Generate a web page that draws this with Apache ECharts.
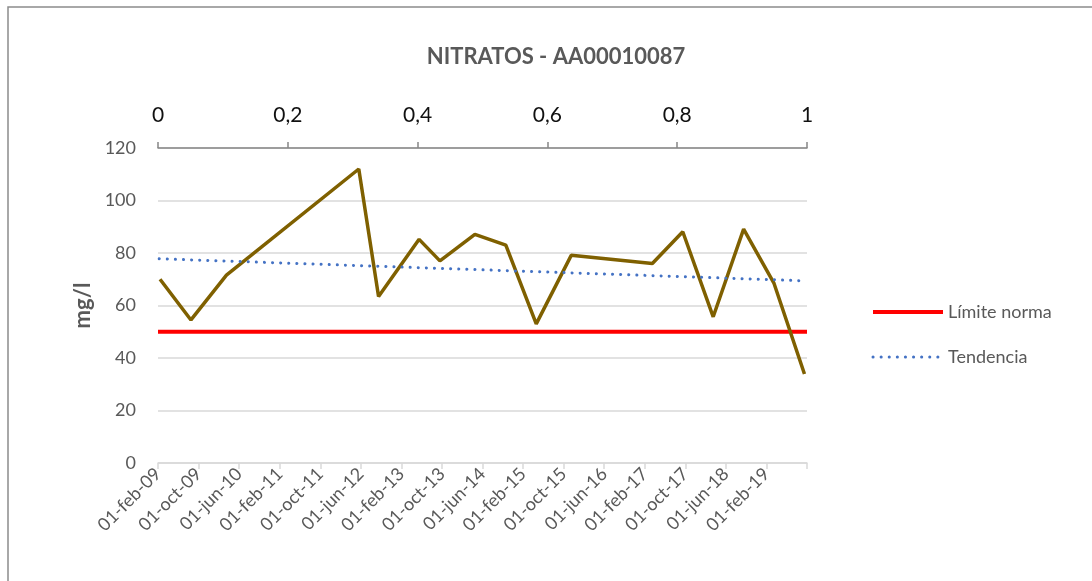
<!DOCTYPE html>
<html>
<head>
<meta charset="utf-8">
<script src="https://cdn.jsdelivr.net/npm/echarts@6/dist/echarts.min.js"></script>
<style>
  html, body { margin: 0; padding: 0; background: #fff; }
  #chart { width: 1092px; height: 581px; }
</style>
</head>
<body>
<div id="chart"></div>
<script>
// sampling dates and nitrate values (mg/l)
var sampleDates = ['2009-02-13', '2009-08-16', '2010-03-16', '2012-05-19', '2012-09-16',
  '2013-05-16', '2013-09-19', '2014-04-16', '2014-10-19', '2015-04-19', '2015-11-16',
  '2017-03-16', '2017-09-16', '2018-03-16', '2018-09-16', '2019-03-16', '2019-09-16']
var nitratos = [70, 54.5, 71.6, 112, 63.4, 85.2, 77, 87.1, 83, 53, 79.1,
  76, 88.1, 55.7, 89.1, 68.4, 33.9]

// limit line and trend line
var limiteDates = ['2009-02-01', '2019-10-01']
var limiteValues = [50, 50]
var tendenciaDates = ['2009-02-08', '2019-09-16']
var tendenciaValues = [77.8, 69.4]

// bottom axis labels, one every 8 months from feb-09
var xTickLabels = ['01-feb-09', '01-oct-09', '01-jun-10', '01-feb-11', '01-oct-11', '01-jun-12',
  '01-feb-13', '01-oct-13', '01-jun-14', '01-feb-15', '01-oct-15', '01-jun-16',
  '01-feb-17', '01-oct-17', '01-jun-18', '01-feb-19']

// months since 01-feb-2009
function toMonth(s) {
  var p = s.split('-')
  return (Number(p[0]) - 2009) * 12 + (Number(p[1]) - 2) + (Number(p[2]) - 1) / 30
}
function pairs(dates, vals) {
  return dates.map(function(d, i) { return [toMonth(d), vals[i]] })
}

var grey = '#595959'
var limiteStyle = { color: '#ff0000', width: 4 }
var tendenciaStyle = { color: '#4472c4', width: 3, type: [0.1, 8], cap: 'round' }

var chart = echarts.init(document.getElementById('chart'))
chart.setOption({
  backgroundColor: '#fff',
  animation: false,
  textStyle: { fontFamily: 'Lato' },
  graphic: [{
    type: 'rect',
    shape: { x: 8, y: 7, width: 1200, height: 700 },
    style: { fill: 'none', stroke: '#8c8c8c', lineWidth: 1.5 },
    silent: true
  }],
  title: {
    text: 'NITRATOS - AA00010087',
    left: 551,
    top: 41,
    textAlign: 'center',
    textStyle: { color: grey, fontSize: 22, fontWeight: 'bold', fontFamily: 'Lato' }
  },
  legend: {
    orient: 'vertical',
    left: 866,
    top: 298,
    itemWidth: 70,
    itemHeight: 14,
    itemGap: 27,
    itemStyle: { opacity: 0 },
    data: [
      { name: 'Límite norma', lineStyle: limiteStyle },
      { name: 'Tendencia', lineStyle: tendenciaStyle }
    ],
    textStyle: { color: grey, fontSize: 18 }
  },
  grid: { left: 158, right: 285, top: 148, bottom: 118 },
  xAxis: [
    {
      type: 'value',
      min: 0,
      max: 128,
      interval: 8,
      position: 'bottom',
      axisLine: { lineStyle: { color: '#d9d9d9', width: 1.5 } },
      axisTick: { length: 6, lineStyle: { color: '#d9d9d9', width: 1.5 } },
      splitLine: { show: false },
      axisLabel: {
        rotate: 45,
        color: grey,
        fontSize: 18,
        margin: 8,
        formatter: function(v) { return xTickLabels[Math.round(v / 8)] || '' }
      }
    },
    {
      type: 'value',
      min: 0,
      max: 1,
      interval: 0.2,
      position: 'top',
      axisLine: { show: true, lineStyle: { color: '#868686', width: 1.5 } },
      axisTick: { show: true, length: 6, lineStyle: { color: '#868686', width: 1.5 } },
      splitLine: { show: false },
      axisLabel: {
        color: '#111',
        fontSize: 21,
        margin: 22,
        showMinLabel: true,
        showMaxLabel: true,
        formatter: function(v) { return String(Number(v.toFixed(1))).replace('.', ',') }
      }
    }
  ],
  yAxis: {
    type: 'value',
    min: 0,
    max: 120,
    interval: 20,
    name: 'mg/l',
    nameLocation: 'middle',
    nameGap: 42,
    nameTextStyle: { color: grey, fontSize: 22, fontWeight: 'bold' },
    axisLine: { show: false },
    axisTick: { show: false },
    axisLabel: { color: grey, fontSize: 18, margin: 22 },
    splitLine: { lineStyle: { color: '#d9d9d9', width: 1.5 } }
  },
  series: [
    {
      name: 'Nitratos',
      type: 'line',
      symbol: 'none',
      xAxisIndex: 0,
      data: pairs(sampleDates, nitratos),
      lineStyle: { color: '#7f6000', width: 3.5 },
      itemStyle: { color: '#7f6000' },
      z: 3
    },
    {
      name: 'Límite norma',
      type: 'line',
      symbol: 'none',
      xAxisIndex: 0,
      data: pairs(limiteDates, limiteValues),
      lineStyle: limiteStyle,
      itemStyle: { color: '#ff0000' },
      z: 2
    },
    {
      name: 'Tendencia',
      type: 'line',
      symbol: 'none',
      xAxisIndex: 0,
      data: pairs(tendenciaDates, tendenciaValues),
      lineStyle: tendenciaStyle,
      itemStyle: { color: '#4472c4' },
      z: 4
    }
  ]
})
</script>
</body>
</html>
